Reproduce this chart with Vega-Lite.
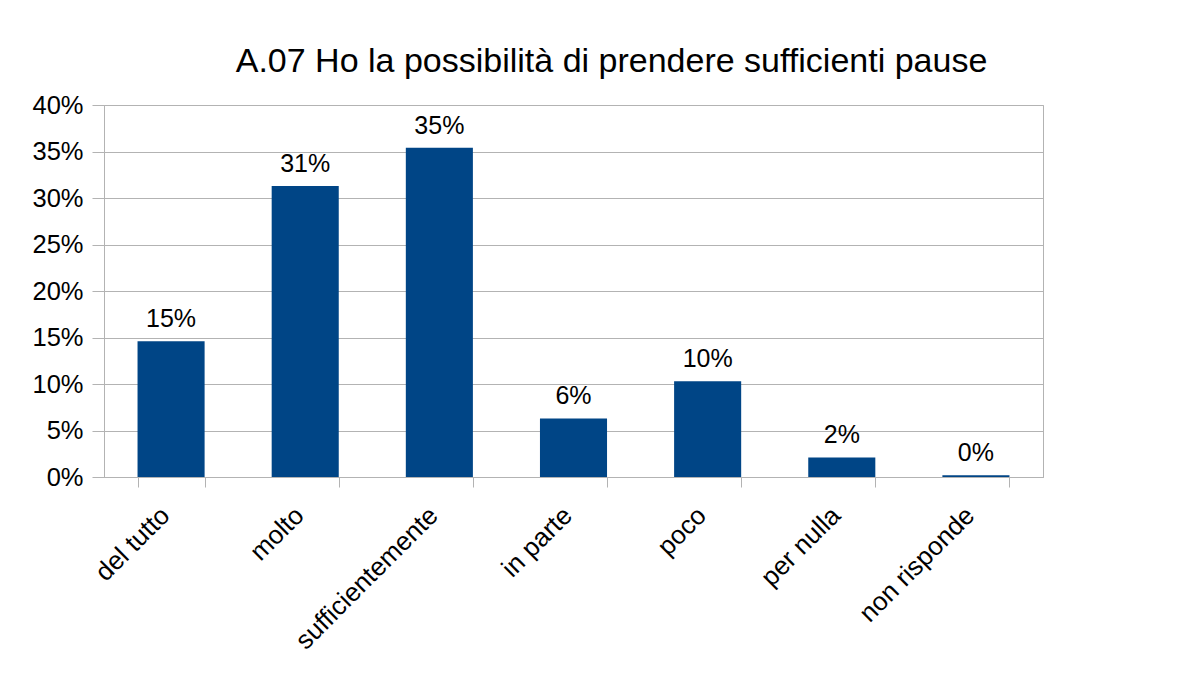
{
  "$schema": "https://vega.github.io/schema/vega-lite/v6.json",
  "width": 939,
  "height": 372,
  "autosize": {"type": "none"},
  "padding": {"left": 104, "top": 105, "right": 160, "bottom": 200},
  "background": "white",
  "title": {
    "text": "A.07 Ho la possibilità di prendere sufficienti pause",
    "font": "Liberation Sans",
    "fontSize": 34,
    "fontWeight": "normal",
    "color": "#000000",
    "anchor": "middle",
    "dx": 38,
    "offset": 14
  },
  "data": {
    "values": [
      {"risposta": "del tutto", "valore": 0.146, "etichetta": "15%"},
      {"risposta": "molto", "valore": 0.313, "etichetta": "31%"},
      {"risposta": "sufficientemente", "valore": 0.354, "etichetta": "35%"},
      {"risposta": "in parte", "valore": 0.063, "etichetta": "6%"},
      {"risposta": "poco", "valore": 0.103, "etichetta": "10%"},
      {"risposta": "per nulla", "valore": 0.021, "etichetta": "2%"},
      {"risposta": "non risponde", "valore": 0.002, "etichetta": "0%"}
    ]
  },
  "encoding": {
    "x": {
      "field": "risposta",
      "type": "nominal",
      "sort": null,
      "title": null,
      "scale": {"paddingInner": 0.5, "paddingOuter": 0.25},
      "axis": {
        "labelAngle": -45,
        "labelAlign": "right",
        "labelBaseline": "middle",
        "labelFont": "Liberation Sans",
        "labelFontSize": 26,
        "labelColor": "#000000",
        "labelPadding": 24,
        "labelOffset": -6,
        "labelLimit": 400,
        "tickBand": "extent",
        "tickSize": 10,
        "tickColor": "#b3b3b3",
        "domainColor": "#b3b3b3",
        "grid": false
      }
    },
    "y": {
      "field": "valore",
      "type": "quantitative",
      "title": null,
      "scale": {"domain": [0, 0.4], "nice": false},
      "axis": {
        "values": [0, 0.05, 0.1, 0.15, 0.2, 0.25, 0.3, 0.35, 0.4],
        "format": ".0%",
        "labelFont": "Liberation Sans",
        "labelFontSize": 25.5,
        "labelColor": "#000000",
        "labelPadding": 9,
        "tickSize": 12,
        "tickColor": "#b3b3b3",
        "domainColor": "#b3b3b3",
        "gridColor": "#b3b3b3",
        "gridOpacity": 1
      }
    }
  },
  "layer": [
    {"mark": {"type": "bar", "color": "#004586"}},
    {
      "mark": {
        "type": "text",
        "font": "Liberation Sans",
        "fontSize": 25,
        "color": "#000000",
        "baseline": "alphabetic",
        "dy": -14
      },
      "encoding": {"text": {"field": "etichetta"}}
    }
  ],
  "config": {
    "view": {"stroke": "#b3b3b3", "strokeWidth": 1}
  }
}
